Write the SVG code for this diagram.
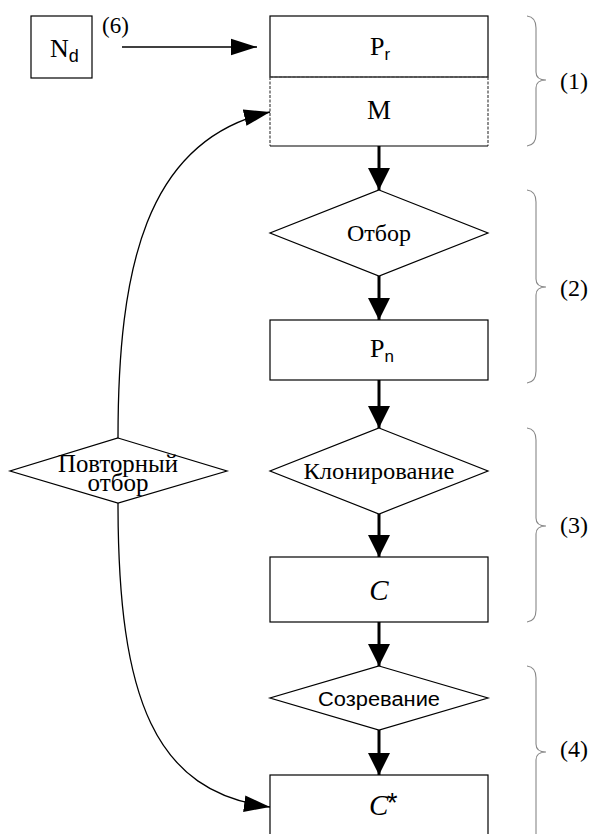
<svg xmlns="http://www.w3.org/2000/svg" width="590" height="834" viewBox="0 0 590 834">
<style>
.box{fill:#fff;stroke:#000;stroke-width:1.2}
.dash{fill:none;stroke:#444;stroke-width:1.2;stroke-dasharray:3 1.5}
.brace{fill:none;stroke:#888;stroke-width:1.1}
.serif{font-family:"Liberation Serif","Times New Roman",serif;fill:#000}
.sans{font-family:"Liberation Sans",Arial,sans-serif;fill:#000}
.thick{stroke:#000;stroke-width:3;fill:none}
.thin{stroke:#000;stroke-width:1.3;fill:none}
</style>
<defs>
<marker id="bigHead" markerUnits="userSpaceOnUse" markerWidth="22" markerHeight="22" refX="20" refY="10" orient="auto" viewBox="0 0 20 20">
<path d="M0,0 L20,10 L0,20 Z" fill="#000"/>
</marker>
<marker id="thinHead" markerUnits="userSpaceOnUse" markerWidth="26" markerHeight="18" refX="25" refY="8" orient="auto" viewBox="0 0 25 16">
<path d="M0,0 L25,8 L0,16 Z" fill="#000"/>
</marker>
</defs>

<g id="node-Nd">
<rect class="box" x="31" y="16" width="61" height="62"/>
<text class="serif" x="50" y="57" font-size="26">N<tspan class="sans" font-size="18" dy="5">d</tspan></text>
</g>

<g id="node-PrM">
<rect class="box" x="270" y="16" width="218" height="61"/>
<text class="serif" x="370" y="55" font-size="26">P<tspan class="sans" font-size="17" dy="5">r</tspan></text>
<path class="dash" d="M270,77 L488,77 M270,77 L270,146 M488,77 L488,146"/>
<line x1="270" y1="146" x2="488" y2="146" stroke="#000" stroke-width="1.2"/>
<text class="serif" x="379" y="119" font-size="27" text-anchor="middle">M</text>
</g>

<g id="node-otbor">
<polygon class="box" points="379,190 488,233 379,276 270,233"/>
<text class="serif" x="379" y="241" font-size="24" text-anchor="middle">Отбор</text>
</g>

<g id="node-Pn">
<rect class="box" x="270" y="320" width="218" height="60"/>
<text class="serif" x="370" y="357" font-size="26">P<tspan class="sans" font-size="17" dy="5">n</tspan></text>
</g>

<g id="node-klon">
<polygon class="box" points="379,428 488,471 379,514 270,471"/>
<text class="serif" x="379" y="479" font-size="24" text-anchor="middle" textLength="151" lengthAdjust="spacingAndGlyphs">Клонирование</text>
</g>

<g id="node-C">
<rect class="box" x="270" y="557" width="218" height="65"/>
<text class="serif" x="379" y="600" font-size="29" font-style="italic" text-anchor="middle">C</text>
</g>

<g id="node-sozr">
<polygon class="box" points="379,666 488,698 379,730 270,698"/>
<text class="sans" x="379" y="706" font-size="20" text-anchor="middle" textLength="122" lengthAdjust="spacingAndGlyphs">Созревание</text>
</g>

<g id="node-Cstar">
<rect class="box" x="270" y="775" width="218" height="70"/>
<text class="serif" x="369" y="815" font-size="29" font-style="italic">C</text>
<text class="sans" x="387" y="812" font-size="27">*</text>
</g>

<g id="node-povtor">
<polygon class="box" points="118,438 227,471 118,503 10,471"/>
<text class="serif" x="118" y="472" font-size="25" text-anchor="middle" textLength="120" lengthAdjust="spacingAndGlyphs">Повторный</text>
<text class="serif" x="118" y="491" font-size="25" text-anchor="middle">отбор</text>
</g>

<g id="braces">
<path class="brace" d="M527,16 Q536,17 536,28 L536,72 Q536,80 546,80 Q536,80 536,88 L536,134 Q536,145 527,146"/>
<text class="serif" x="560" y="89" font-size="24">(1)</text>
<path class="brace" d="M527,190 Q536,191 536,202 L536,279 Q536,287 546,287 Q536,287 536,295 L536,371 Q536,382 527,383"/>
<text class="serif" x="560" y="296" font-size="24">(2)</text>
<path class="brace" d="M527,428 Q536,429 536,440 L536,518 Q536,526 546,526 Q536,526 536,534 L536,610 Q536,621 527,622"/>
<text class="serif" x="560" y="533" font-size="24">(3)</text>
<path class="brace" d="M527,666 Q536,667 536,678 L536,744 Q536,752 546,752 Q536,752 536,760 L536,834"/>
<text class="serif" x="560" y="757" font-size="24">(4)</text>
</g>

<g id="connectors">
<text class="serif" x="102" y="33" font-size="23">(6)</text>
<line class="thin" x1="122" y1="47" x2="257" y2="47" marker-end="url(#thinHead)"/>
<line class="thick" x1="379" y1="146" x2="379" y2="190" marker-end="url(#bigHead)"/>
<line class="thick" x1="379" y1="276" x2="379" y2="320" marker-end="url(#bigHead)"/>
<line class="thick" x1="379" y1="380" x2="379" y2="428" marker-end="url(#bigHead)"/>
<line class="thick" x1="379" y1="514" x2="379" y2="557" marker-end="url(#bigHead)"/>
<line class="thick" x1="379" y1="622" x2="379" y2="666" marker-end="url(#bigHead)"/>
<line class="thick" x1="379" y1="730" x2="379" y2="775" marker-end="url(#bigHead)"/>
<path class="thin" d="M118,438 C118,270 145,140 270,112" marker-end="url(#thinHead)"/>
<path class="thin" d="M118,503 C118,700 155,792 270,807" marker-end="url(#thinHead)"/>
</g>
</svg>
